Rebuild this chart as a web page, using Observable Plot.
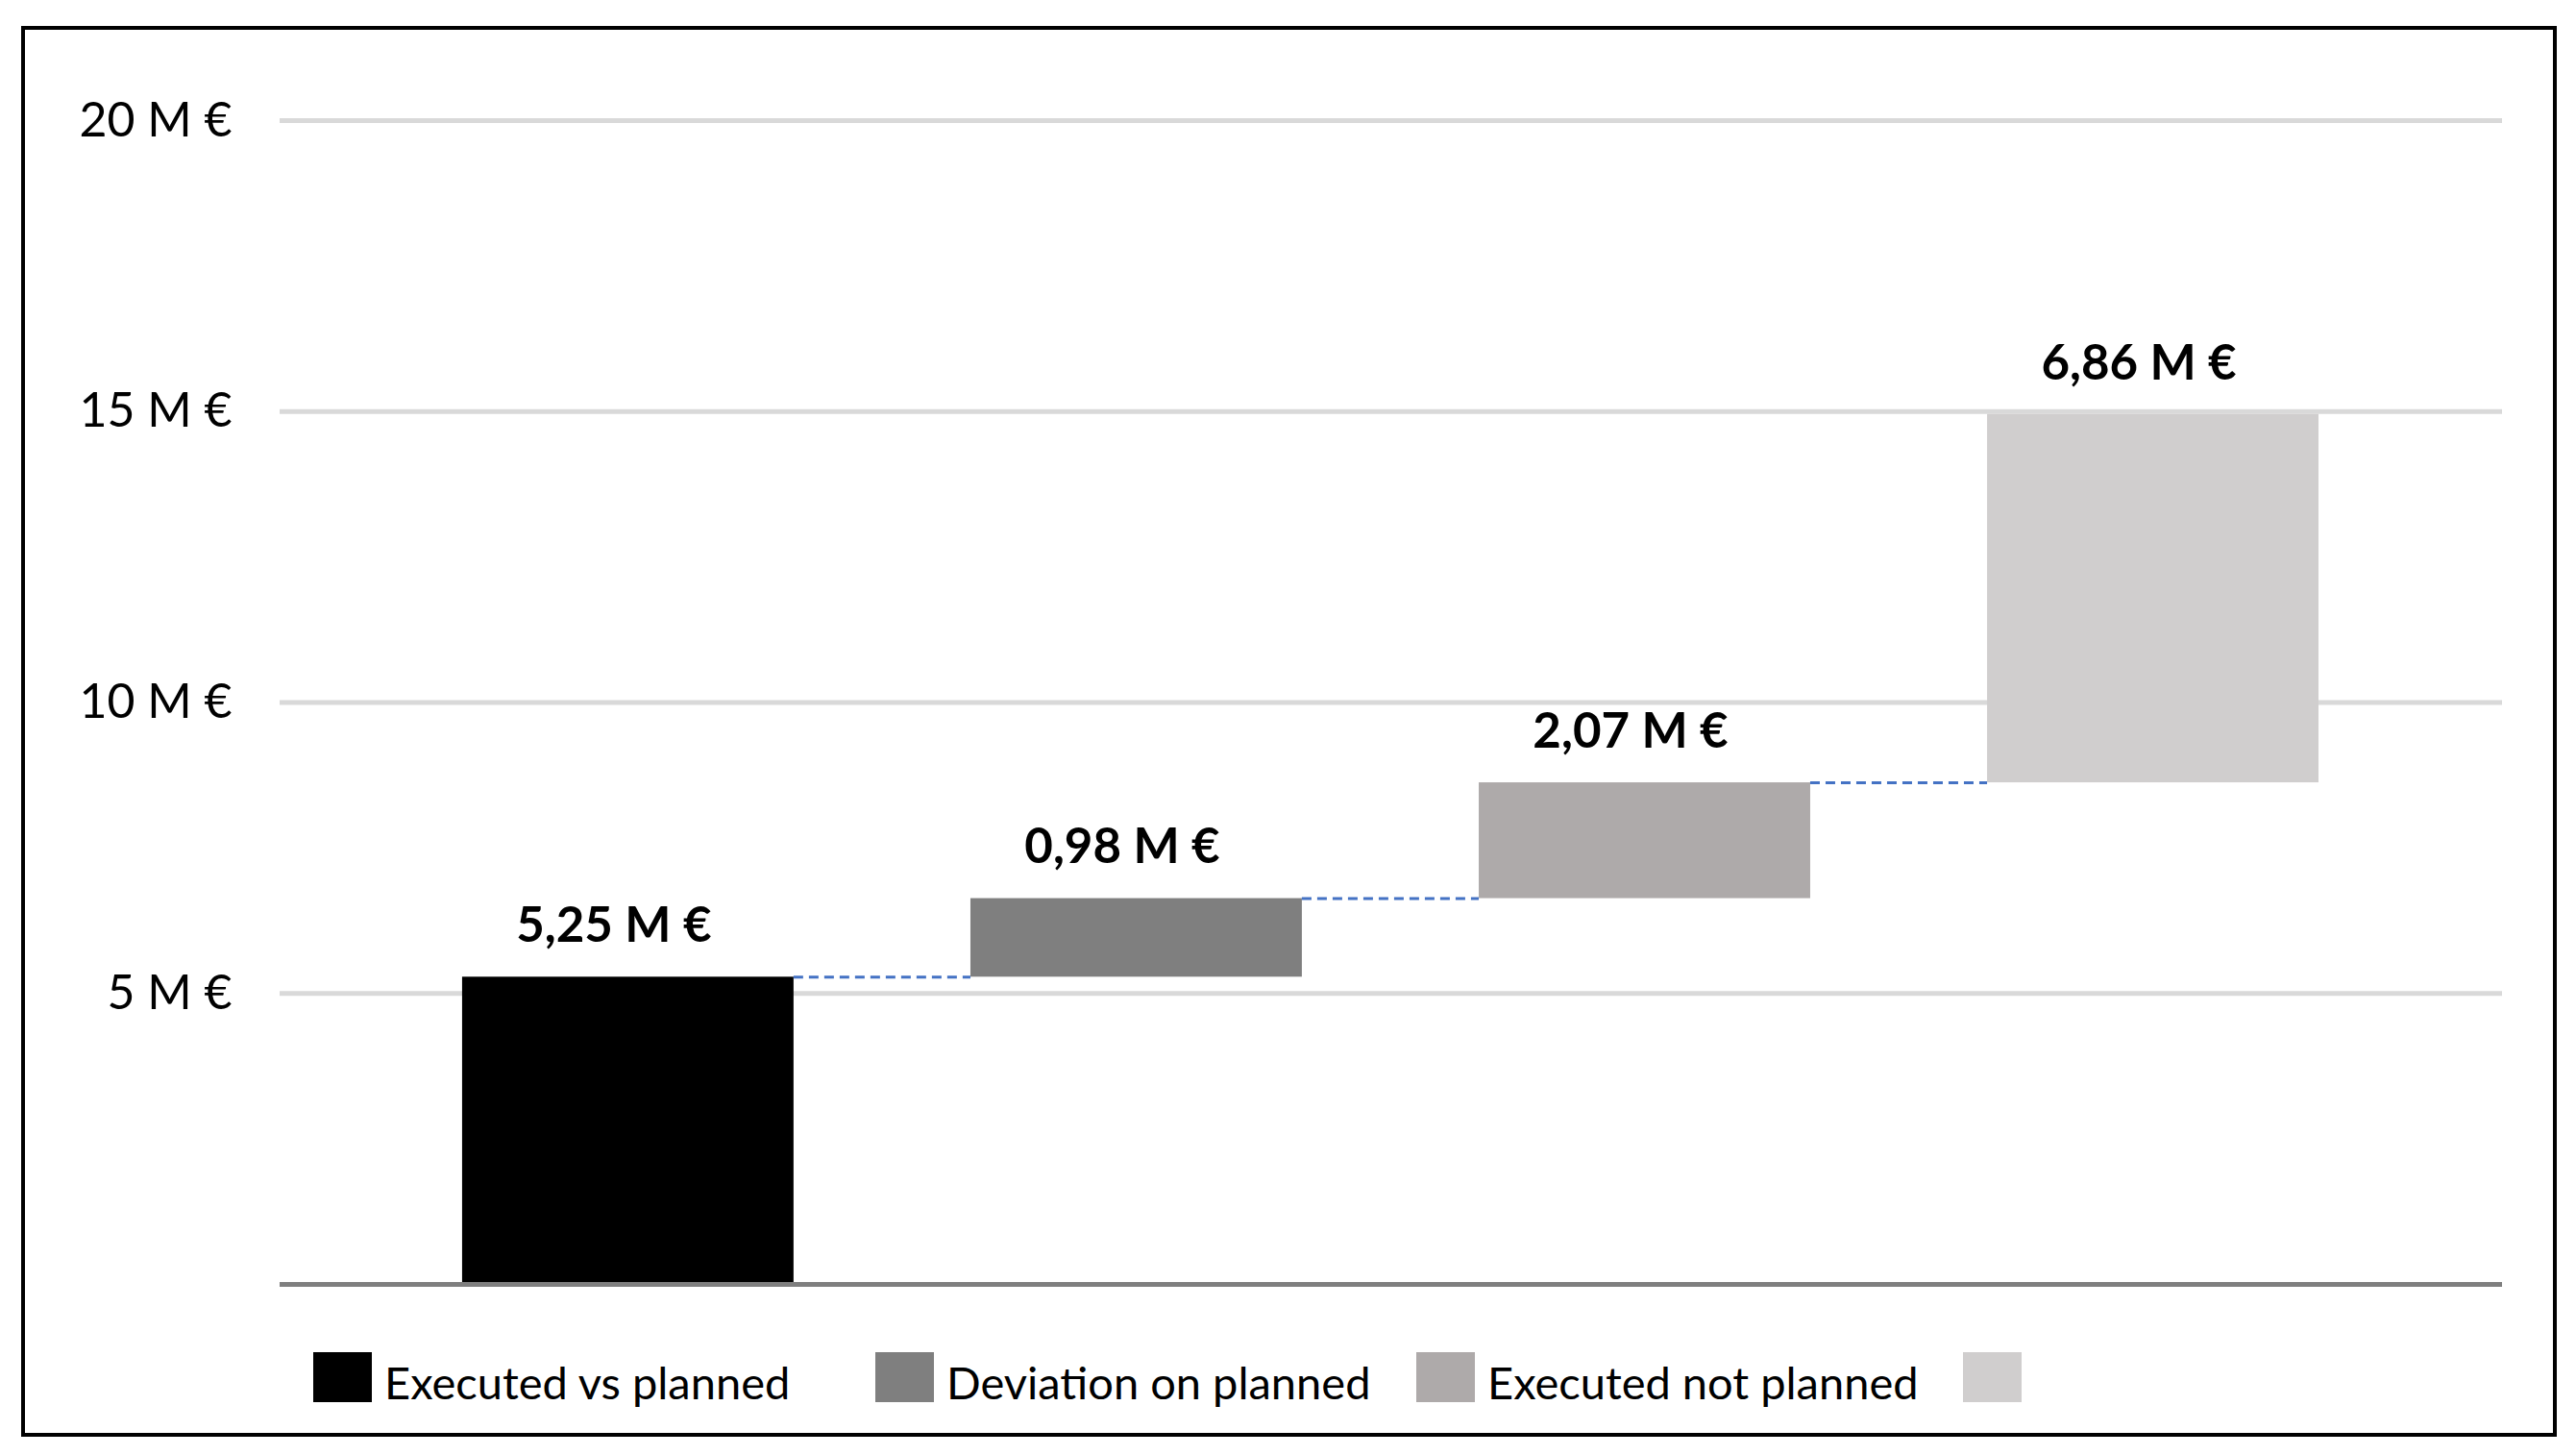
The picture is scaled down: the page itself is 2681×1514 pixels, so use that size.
<!DOCTYPE html>
<html>
<head>
<meta charset="utf-8">
<script src="https://cdn.jsdelivr.net/npm/d3@7"></script>
<script src="https://cdn.jsdelivr.net/npm/@observablehq/plot@0.6"></script>
<style>
html, body { margin: 0; padding: 0; background: #fff; }
body { width: 2681px; height: 1514px; position: relative; overflow: hidden; font-family: Lato, "Open Sans", sans-serif; }
#frame { position: absolute; left: 22px; top: 27px; width: 2631px; height: 1460px; border: 4px solid #000; }
#chart { position: absolute; left: 0; top: 0; }
#legend { position: absolute; left: 0; top: 1407px; height: 52px; width: 2681px; }
.item { position: absolute; top: 0; display: flex; align-items: center; height: 52px; }
.sw { width: 61px; height: 52px; flex: none; }
.lbl { font-size: 47px; color: #000; margin-left: 13px; white-space: nowrap; position: relative; top: 5px; }
</style>
</head>
<body>
<div id="frame"></div>
<div id="chart"></div>
<div id="legend"></div>
<script>
// ---- data ----
const categories = ["Executed vs planned", "Deviation on planned", "Executed not planned", ""];
const barTops = [5.28, 6.63, 8.62, 14.95];           // cumulative top of each waterfall bar (M €)
const valueLabels = ["5,25 M €", "0,98 M €", "2,07 M €", "6,86 M €"];
const barColors = ["#000000", "#7f7f7f", "#aeaaaa", "#d0cece"];
const yTicks = [5, 10, 15, 20];
const yTickLabels = ["5 M €", "10 M €", "15 M €", "20 M €"];

// ---- build rows ----
const half = 0.326; // half bar width in category units
const rows = categories.map((c, i) => ({
  i, cat: c,
  start: i ? barTops[i - 1] : 0,
  end: barTops[i],
  label: valueLabels[i],
  color: barColors[i]
}));
const links = rows.slice(0, -1).map(r => ({x1: r.i + half, x2: r.i + 1 - half, y: r.end}));

const chart = Plot.plot({
  width: 2681,
  height: 1380,
  marginLeft: 291,
  marginRight: 77,
  marginTop: 125,
  marginBottom: 44,
  style: {fontFamily: "Lato, 'Open Sans', sans-serif", fontSize: "51px", color: "#000", background: "transparent", overflow: "visible"},
  x: {type: "linear", domain: [-0.685, 3.687], axis: null},
  y: {domain: [0, 20]},
  color: {type: "identity"},
  marks: [
    Plot.ruleY(yTicks, {stroke: "#d9d9d9", strokeWidth: 5}),
    Plot.axisY(yTicks, {anchor: "left", tickSize: 0, tickPadding: 50, tickFormat: d => yTickLabels[yTicks.indexOf(d)], fontSize: 50, fill: "#000"}),
    Plot.rect(rows, {x1: d => d.i - half, x2: d => d.i + half, y1: "start", y2: "end", fill: d => d.color}),
    Plot.ruleY(links, {x1: "x1", x2: "x2", y: "y", stroke: "#4472c4", strokeWidth: 3, strokeDasharray: "10,6"}),
    Plot.ruleY([0], {stroke: "#7f7f7f", strokeWidth: 5}),
    Plot.text(rows, {x: "i", y: "end", text: "label", dy: -53, dx: -15, fontWeight: "bold", fontSize: 51, fill: "#000"})
  ]
});
document.getElementById("chart").appendChild(chart);

// ---- legend ----
const legendLefts = [326, 911, 1474, 2043];
const legend = document.getElementById("legend");
categories.forEach((c, i) => {
  const item = document.createElement("div");
  item.className = "item";
  item.style.left = legendLefts[i] + "px";
  const sw = document.createElement("div");
  sw.className = "sw";
  sw.style.background = barColors[i];
  item.appendChild(sw);
  if (c) {
    const t = document.createElement("span");
    t.className = "lbl";
    t.textContent = c;
    item.appendChild(t);
  }
  legend.appendChild(item);
});
</script>
</body>
</html>
